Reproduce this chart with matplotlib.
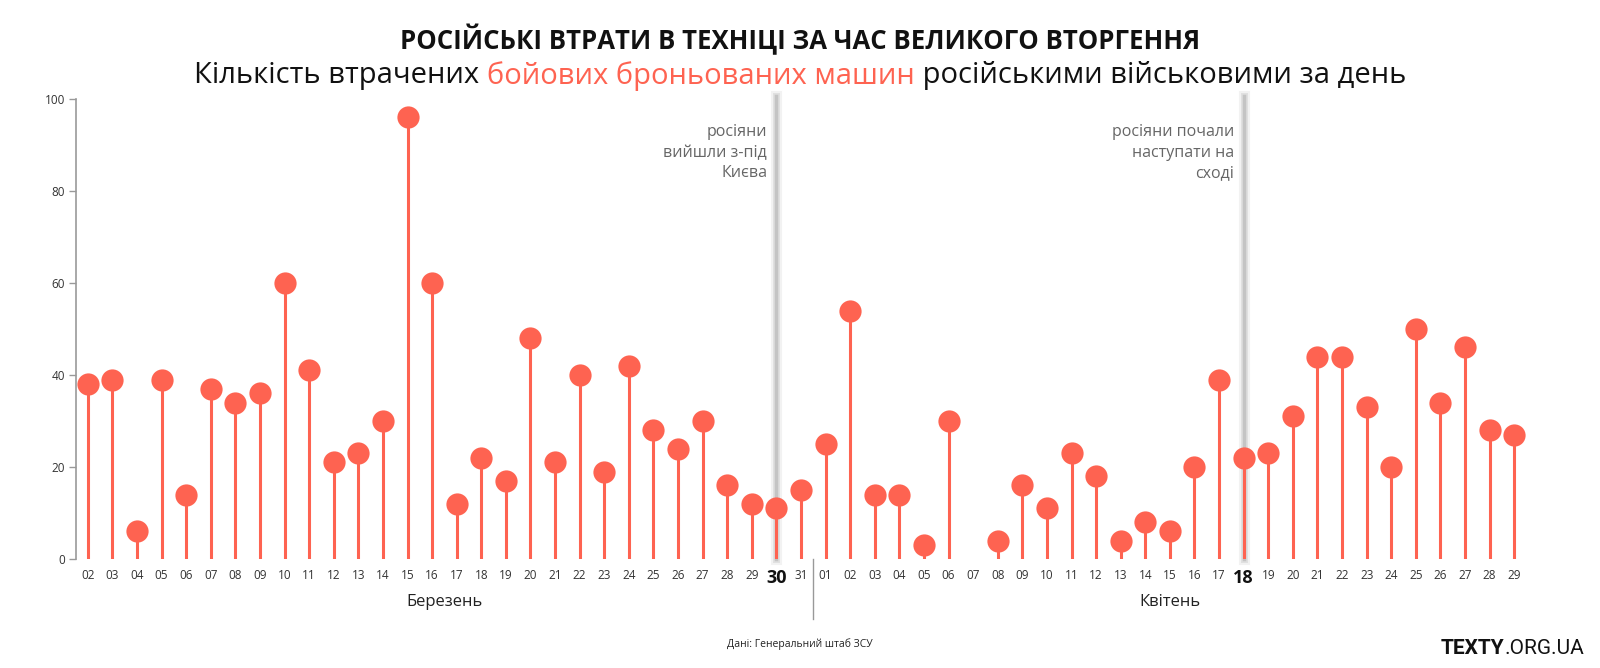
import numpy as np
import matplotlib.pyplot as plt

# daily losses of armoured combat vehicles
march_days = ['02', '03', '04', '05', '06', '07', '08', '09', '10', '11',
              '12', '13', '14', '15', '16', '17', '18', '19', '20', '21',
              '22', '23', '24', '25', '26', '27', '28', '29', '30', '31']
march_losses = [38, 39, 6, 39, 14, 37, 34, 36, 60, 41,
                21, 23, 30, 96, 60, 12, 22, 17, 48, 21,
                40, 19, 42, 28, 24, 30, 16, 12, 11, 15]
april_days = ['01', '02', '03', '04', '05', '06', '07', '08', '09', '10',
              '11', '12', '13', '14', '15', '16', '17', '18', '19', '20',
              '21', '22', '23', '24', '25', '26', '27', '28', '29']
april_losses = [25, 54, 14, 14, 3, 30, None, 4, 16, 11,
                23, 18, 4, 8, 6, 20, 39, 22, 23, 31,
                44, 44, 33, 20, 50, 34, 46, 28, 27]
month_names = ['Березень', 'Квітень']
event_dates = [('03', '30'), ('04', '18')]
event_notes = ['росіяни\nвийшли з-під\nКиєва', 'росіяни почали\nнаступати на\nсході']
y_ticks = [0, 20, 40, 60, 80, 100]

RED = '#fe6351'
FONT = ['Open Sans', 'DejaVu Sans']
plt.rcParams['font.family'] = FONT


def run():
    dates = [('03', d) for d in march_days] + [('04', d) for d in april_days]
    values = np.array([np.nan if v is None else v for v in march_losses + april_losses], dtype=float)
    x = np.arange(len(values))
    ok = ~np.isnan(values)

    fig = plt.figure(figsize=(16, 6.68), dpi=100)
    ax = fig.add_axes([0.0478, 0.1632, 0.90625, 0.6886])
    ax.set_xlim(-0.46, len(values) - 0.5)
    ax.set_ylim(0, 100)

    # event lines (soft grey, slightly blurred look)
    event_idx = [dates.index(e) for e in event_dates]
    for idx, note in zip(event_idx, event_notes):
        for lw, col, a in [(8, '#e6e6e6', 0.5), (5, '#d8d8d8', 0.7), (2.5, '#c4c4c4', 1.0)]:
            ax.axvline(idx, ymin=0, ymax=1.006, lw=lw, color=col, alpha=a,
                       clip_on=False, zorder=1)
        ax.text(idx - 0.38, 94.6, note, ha='right', va='top', fontsize=11.5,
                color='#666666', linespacing=1.4, zorder=2)

    # lollipops
    ax.vlines(x[ok], 0, values[ok], color=RED, lw=2.2, zorder=3)
    ax.plot(x[ok], values[ok], 'o', ms=16, color=RED, mec='none',
            clip_on=False, zorder=4)

    # axes styling
    for s in ['top', 'right', 'bottom']:
        ax.spines[s].set_visible(False)
    ax.spines['left'].set_color('#999999')
    ax.spines['left'].set_linewidth(1.2)
    ax.set_yticks(y_ticks)
    ax.tick_params(axis='y', length=5, width=1, color='#999999',
                   labelsize=8.5, labelcolor='#333333', pad=3)
    ax.set_xticks([])

    # day labels
    tr = ax.get_xaxis_transform()
    for i, (m, d) in enumerate(dates):
        if (m, d) in event_dates:
            ax.text(i, -0.042, d, transform=tr, ha='center', va='center',
                    fontsize=13, fontweight='bold', color='#111111')
        else:
            ax.text(i, -0.035, d, transform=tr, ha='center', va='center',
                    fontsize=8.5, color='#333333')

    # month labels and divider
    n_march = len(march_days)
    ax.text((n_march - 1) / 2, -0.093, month_names[0], transform=tr,
            ha='center', va='center', fontsize=12, color='#222222')
    ax.text(n_march + (len(april_days) - 1) / 2, -0.093, month_names[1],
            transform=tr, ha='center', va='center', fontsize=12, color='#222222')
    ax.plot([n_march - 0.5, n_march - 0.5], [0, -0.13], transform=tr,
            color='#999999', lw=1, clip_on=False)

    # title
    fig.text(0.5, 1 - 40 / 668, 'РОСІЙСЬКІ ВТРАТИ В ТЕХНІЦІ ЗА ЧАС ВЕЛИКОГО ВТОРГЕННЯ',
             ha='center', va='center', fontsize=18.5, fontweight='bold', color='#111111')

    # subtitle with coloured part
    parts = [('Кількість втрачених ', '#111111'),
             ('бойових броньованих машин', RED),
             (' російськими військовими за день', '#111111')]
    r = fig.canvas.get_renderer()
    texts = [fig.text(0, 1 - 76 / 668, p, fontsize=21, color=c, va='center', ha='left')
             for p, c in parts]
    widths = [t.get_window_extent(r).width for t in texts]
    start = 800 - sum(widths) / 2
    for t, w in zip(texts, widths):
        t.set_x(start / 1600)
        start += w

    # footer
    fig.text(0.5, 1 - 644 / 668, 'Дані: Генеральний штаб ЗСУ', ha='center', va='center',
             fontsize=7.5, color='#222222')
    t1 = fig.text(0, 1 - 648 / 668, 'TEXTY', fontsize=15, fontweight='bold',
                  color='#111111', va='center', ha='left', family=['Roboto', 'DejaVu Sans'])
    t2 = fig.text(0, 1 - 648 / 668, '.ORG.UA', fontsize=15, color='#111111',
                  va='center', ha='left', family=['Roboto', 'DejaVu Sans'])
    w1 = t1.get_window_extent(r).width
    w2 = t2.get_window_extent(r).width
    t1.set_x((1584 - w1 - w2) / 1600)
    t2.set_x((1584 - w2) / 1600)

    fig.savefig('out.png', dpi=100)


if __name__ == '__main__':
    run()
